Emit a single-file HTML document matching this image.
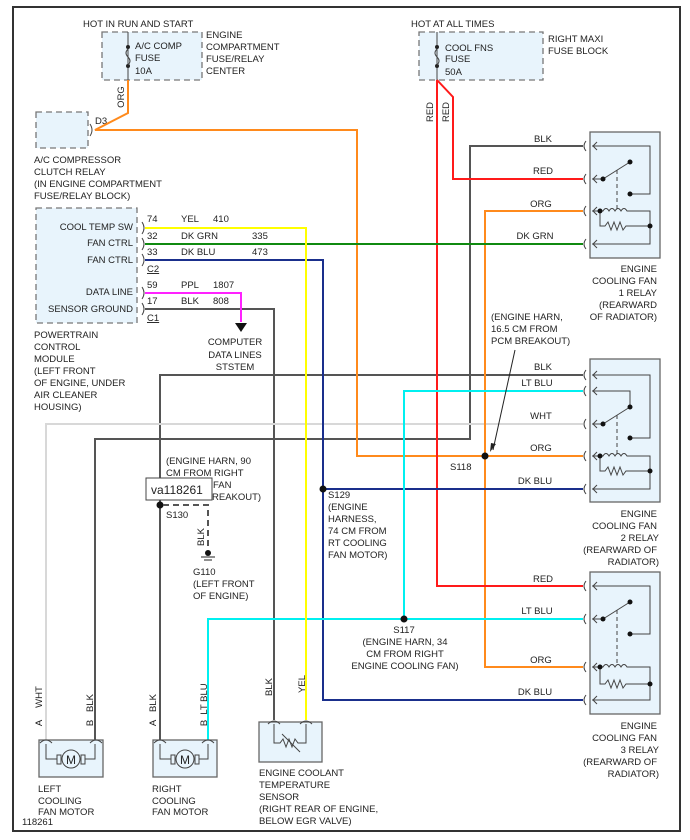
<!DOCTYPE html>
<html><head><meta charset="utf-8"><style>
html,body{margin:0;padding:0;background:#fff}
svg{display:block}
text{font-family:"Liberation Sans",sans-serif;font-size:9.5px;fill:#222}
.w{fill:none;stroke-width:2}
.t{fill:none;stroke:#444;stroke-width:1}
.box{fill:#e8f4fc;stroke:#777;stroke-width:1.3;stroke-dasharray:6,4}
.rb{fill:#e8f4fc;stroke:#666;stroke-width:1.3}
</style></head><body>
<svg width="690" height="840" viewBox="0 0 690 840" xmlns="http://www.w3.org/2000/svg">
<rect x="13" y="7" width="667" height="824" fill="#fff" stroke="#333" stroke-width="2"/>

<!-- fuse boxes -->
<rect class="box" x="102" y="32" width="100" height="48"/>
<text x="83" y="27">HOT IN RUN AND START</text>
<line x1="128" y1="32" x2="128" y2="80" stroke="#444"/>
<circle cx="128" cy="47" r="2" fill="#222"/><circle cx="128" cy="66" r="2" fill="#222"/>
<path d="M128 49 q-4 4 0 8 q4 4 0 8" class="t"/>
<text x="135" y="49">A/C COMP</text><text x="135" y="61">FUSE</text><text x="135" y="74">10A</text>
<text x="206" y="38">ENGINE</text><text x="206" y="50">COMPARTMENT</text><text x="206" y="62">FUSE/RELAY</text><text x="206" y="74">CENTER</text>

<rect class="box" x="419" y="32" width="124" height="48"/>
<text x="411" y="27">HOT AT ALL TIMES</text>
<line x1="437" y1="32" x2="437" y2="80" stroke="#444"/>
<circle cx="437" cy="47" r="2" fill="#222"/><circle cx="437" cy="66" r="2" fill="#222"/>
<path d="M437 49 q-4 4 0 8 q4 4 0 8" class="t"/>
<text x="445" y="51">COOL FNS</text><text x="445" y="62">FUSE</text><text x="445" y="75">50A</text>
<text x="548" y="42">RIGHT MAXI</text><text x="548" y="54">FUSE BLOCK</text>

<!-- AC relay -->
<rect class="box" x="36" y="112" width="52" height="36"/>
<path d="M90 124 q4 6 0 12" class="t"/>
<text x="95" y="124">D3</text>
<text x="34" y="163">A/C COMPRESSOR</text><text x="34" y="175">CLUTCH RELAY</text><text x="34" y="187">(IN ENGINE COMPARTMENT</text><text x="34" y="199">FUSE/RELAY BLOCK)</text>

<!-- PCM -->
<rect class="box" x="36" y="208" width="101" height="115"/>
<g text-anchor="end"><text x="133" y="230">COOL TEMP SW</text><text x="133" y="246">FAN CTRL</text><text x="133" y="263">FAN CTRL</text><text x="133" y="295">DATA LINE</text><text x="133" y="312">SENSOR GROUND</text></g>
<g class="t"><path d="M142 222 q4 6 0 12"/><path d="M142 238 q4 6 0 12"/><path d="M142 254 q4 6 0 12"/><path d="M142 287 q4 6 0 12"/><path d="M142 303 q4 6 0 12"/></g>
<text x="147" y="222">74</text><text x="147" y="239">32</text><text x="147" y="255">33</text><text x="147" y="272" text-decoration="underline">C2</text>
<text x="147" y="288">59</text><text x="147" y="304">17</text><text x="147" y="321" text-decoration="underline">C1</text>
<text x="181" y="222">YEL</text><text x="213" y="222">410</text>
<text x="181" y="239">DK GRN</text><text x="252" y="239">335</text>
<text x="181" y="255">DK BLU</text><text x="252" y="255">473</text>
<text x="181" y="288">PPL</text><text x="213" y="288">1807</text>
<text x="181" y="304">BLK</text><text x="213" y="304">808</text>
<text x="34" y="338">POWERTRAIN</text><text x="34" y="350">CONTROL</text><text x="34" y="362">MODULE</text><text x="34" y="374">(LEFT FRONT</text><text x="34" y="386">OF ENGINE, UNDER</text><text x="34" y="398">AIR CLEANER</text><text x="34" y="410">HOUSING)</text>
<g text-anchor="middle"><text x="235" y="345">COMPUTER</text><text x="235" y="358">DATA LINES</text><text x="235" y="370">STSTEM</text></g>

<!-- wires -->
<polyline class="w" stroke="#555" points="583,146 470,146 470,439 95,439 95,740"/>
<polyline class="w" stroke="#555" points="583,375 160,375 160,740"/>
<polyline class="w" stroke="#555" points="145,309 274,309 274,720"/>
<polyline class="w" stroke="#d8d8d8" points="583,424 46,424 46,740"/>
<polyline class="w" stroke="#ff8a1c" points="128,80 128,113 95,130 357,130 357,456 583,456"/>
<polyline class="w" stroke="#ff8a1c" points="583,211 485,211 485,667 583,667"/>
<polyline class="w" stroke="#ff1a1a" points="437,80 437,586 583,586"/>
<polyline class="w" stroke="#ff1a1a" points="437,80 453,97 453,179 583,179"/>
<polyline class="w" points="145,244 583,244" style="stroke:#108a10"/>
<polyline class="w" stroke="#1a2f8c" points="145,260 323,260 323,700 583,700"/>
<polyline class="w" stroke="#1a2f8c" points="323,489 583,489"/>
<polyline class="w" stroke="#00f0f0" points="583,391 404,391 404,619"/>
<polyline class="w" stroke="#00f0f0" points="583,619 208,619 208,740"/>
<polyline class="w" stroke="#ffff00" points="145,228 306,228 306,720"/>
<polyline class="w" stroke="#ff22ff" points="145,293 241,293 241,322"/>
<polygon points="235,323 247,323 241,332" fill="#111"/>

<!-- vertical labels -->
<g text-anchor="middle">
<text transform="translate(124,97) rotate(-90)">ORG</text>
<text transform="translate(433,112) rotate(-90)">RED</text>
<text transform="translate(449,112) rotate(-90)">RED</text>
<text transform="translate(204,537) rotate(-90)">BLK</text>
<text transform="translate(42,697) rotate(-90)">WHT</text>
<text transform="translate(42,723) rotate(-90)">A</text>
<text transform="translate(93,703) rotate(-90)">BLK</text>
<text transform="translate(93,723) rotate(-90)">B</text>
<text transform="translate(156,703) rotate(-90)">BLK</text>
<text transform="translate(156,723) rotate(-90)">A</text>
<text transform="translate(207,699) rotate(-90)">LT BLU</text>
<text transform="translate(207,723) rotate(-90)">B</text>
<text transform="translate(272,687) rotate(-90)">BLK</text>
<text transform="translate(305,684) rotate(-90)">YEL</text>
</g>

<!-- wire labels near relays -->
<g text-anchor="middle">
<text x="543" y="142">BLK</text><text x="543" y="174">RED</text><text x="541" y="207">ORG</text><text x="535" y="239">DK GRN</text>
<text x="543" y="370">BLK</text><text x="537" y="386">LT BLU</text><text x="541" y="419">WHT</text><text x="541" y="451">ORG</text><text x="535" y="484">DK BLU</text>
<text x="543" y="582">RED</text><text x="537" y="614">LT BLU</text><text x="541" y="663">ORG</text><text x="535" y="695">DK BLU</text>
</g>

<!-- splices -->
<circle cx="485" cy="456" r="3.5" fill="#111"/>
<circle cx="323" cy="489" r="3.5" fill="#111"/>
<circle cx="404" cy="619" r="3.5" fill="#111"/>
<circle cx="160" cy="505" r="3.5" fill="#111"/>
<text x="450" y="470">S118</text>
<text x="491" y="320">(ENGINE HARN,</text><text x="491" y="332">16.5 CM FROM</text><text x="491" y="344">PCM BREAKOUT)</text>
<line x1="515" y1="350" x2="493" y2="450" stroke="#222"/>
<polygon points="490,452 491,443 496,444" fill="#222"/>
<text x="328" y="498">S129</text><text x="328" y="510">(ENGINE</text><text x="328" y="522">HARNESS,</text><text x="328" y="534">74 CM FROM</text><text x="328" y="546">RT COOLING</text><text x="328" y="558">FAN MOTOR)</text>
<g text-anchor="middle"><text x="404" y="633">S117</text><text x="405" y="645">(ENGINE HARN, 34</text><text x="405" y="657">CM FROM RIGHT</text><text x="405" y="669">ENGINE COOLING FAN)</text></g>
<text x="166" y="464">(ENGINE HARN, 90</text><text x="166" y="476">CM FROM RIGHT</text><text x="213" y="488">FAN</text><text x="212" y="500">REAKOUT)</text>
<rect x="146" y="478" width="66" height="22" fill="#fff" stroke="#444"/>
<text x="151" y="494" style="font-size:12px">va118261</text>
<text x="166" y="518">S130</text>
<polyline points="163,505 208,505 208,550" fill="none" stroke="#555" stroke-width="2" stroke-dasharray="6,4"/>
<circle cx="208" cy="553" r="3" fill="#111"/>
<line x1="201" y1="557" x2="215" y2="557" stroke="#222"/><line x1="204" y1="560" x2="212" y2="560" stroke="#222"/>
<text x="193" y="575">G110</text><text x="193" y="587">(LEFT FRONT</text><text x="193" y="599">OF ENGINE)</text>

<!-- relays -->
<g>
<rect class="rb" x="590" y="132" width="70" height="126"/>
<g class="t">
<path d="M586 141 q-4 5 0 10"/><path d="M586 174 q-4 5 0 10"/><path d="M586 206 q-4 5 0 10"/><path d="M586 239 q-4 5 0 10"/>
<path d="M597 142 l-4 4 l4 4 M597 175 l-4 4 l4 4 M597 207 l-4 4 l4 4 M597 240 l-4 4 l4 4"/>
<polyline points="592,146 650,146 650,194 630,194"/>
<line x1="592" y1="179" x2="603" y2="179"/><line x1="603" y1="179" x2="630" y2="162"/>
<line x1="617" y1="170" x2="617" y2="210" stroke-dasharray="4,3"/>
<path d="M592 211 L603 211 q3-5 6 0 q3-5 6 0 q3-5 6 0 q3-5 6 0 L650 211 L650 244 L592 244"/>
<path d="M600 211 L600 226 L605 226 L608 222 L611 230 L614 222 L617 230 L620 222 L623 230 L626 226 L650 226"/>
</g>
<circle cx="603" cy="179" r="2.5" fill="#111"/><circle cx="630" cy="162" r="2.5" fill="#111"/><circle cx="630" cy="194" r="2.5" fill="#111"/><circle cx="600" cy="211" r="2.5" fill="#111"/><circle cx="650" cy="226" r="2.5" fill="#111"/>
</g>
<g text-anchor="end"><text x="657" y="272">ENGINE</text><text x="657" y="284">COOLING FAN</text><text x="657" y="296">1 RELAY</text><text x="657" y="308">(REARWARD</text><text x="657" y="320">OF RADIATOR)</text></g>

<g>
<rect class="rb" x="590" y="359" width="70" height="143"/>
<g class="t">
<path d="M586 370 q-4 5 0 10"/><path d="M586 386 q-4 5 0 10"/><path d="M586 419 q-4 5 0 10"/><path d="M586 451 q-4 5 0 10"/><path d="M586 484 q-4 5 0 10"/>
<path d="M597 371 l-4 4 l4 4 M597 387 l-4 4 l4 4 M597 420 l-4 4 l4 4 M597 452 l-4 4 l4 4 M597 485 l-4 4 l4 4"/>
<polyline points="592,375 650,375 650,438 630,438"/>
<polyline points="592,391 630,391 630,407"/>
<line x1="592" y1="424" x2="603" y2="424"/><line x1="603" y1="424" x2="630" y2="407"/>
<line x1="617" y1="415" x2="617" y2="455" stroke-dasharray="4,3"/>
<path d="M592 456 L603 456 q3-5 6 0 q3-5 6 0 q3-5 6 0 q3-5 6 0 L650 456 L650 489 L592 489"/>
<path d="M600 456 L600 471 L605 471 L608 467 L611 475 L614 467 L617 475 L620 467 L623 475 L626 471 L650 471"/>
</g>
<circle cx="603" cy="424" r="2.5" fill="#111"/><circle cx="630" cy="407" r="2.5" fill="#111"/><circle cx="630" cy="438" r="2.5" fill="#111"/><circle cx="600" cy="456" r="2.5" fill="#111"/><circle cx="650" cy="471" r="2.5" fill="#111"/>
</g>
<g text-anchor="end"><text x="657" y="517">ENGINE</text><text x="657" y="529">COOLING FAN</text><text x="659" y="541">2 RELAY</text><text x="657" y="553">(REARWARD OF</text><text x="659" y="565">RADIATOR)</text></g>

<g>
<rect class="rb" x="590" y="572" width="70" height="142"/>
<g class="t">
<path d="M586 581 q-4 5 0 10"/><path d="M586 614 q-4 5 0 10"/><path d="M586 662 q-4 5 0 10"/><path d="M586 695 q-4 5 0 10"/>
<path d="M597 582 l-4 4 l4 4 M597 615 l-4 4 l4 4 M597 663 l-4 4 l4 4 M597 696 l-4 4 l4 4"/>
<polyline points="592,586 650,586 650,634 630,634"/>
<line x1="592" y1="619" x2="603" y2="619"/><line x1="603" y1="619" x2="630" y2="602"/>
<line x1="617" y1="610" x2="617" y2="666" stroke-dasharray="4,3"/>
<path d="M592 667 L603 667 q3-5 6 0 q3-5 6 0 q3-5 6 0 q3-5 6 0 L650 667 L650 700 L592 700"/>
<path d="M600 667 L600 684 L605 684 L608 680 L611 688 L614 680 L617 688 L620 680 L623 688 L626 684 L650 684"/>
</g>
<circle cx="603" cy="619" r="2.5" fill="#111"/><circle cx="630" cy="602" r="2.5" fill="#111"/><circle cx="630" cy="634" r="2.5" fill="#111"/><circle cx="600" cy="667" r="2.5" fill="#111"/><circle cx="650" cy="684" r="2.5" fill="#111"/>
</g>
<g text-anchor="end"><text x="657" y="729">ENGINE</text><text x="657" y="741">COOLING FAN</text><text x="659" y="753">3 RELAY</text><text x="657" y="765">(REARWARD OF</text><text x="659" y="777">RADIATOR)</text></g>

<!-- motors -->
<g>
<rect class="rb" x="39" y="740" width="64" height="37"/>
<g class="t"><path d="M40 743 q6-6 12 0"/><path d="M90 743 q6-6 12 0"/>
<polyline points="46,744 46,759 57,759"/><polyline points="95,744 95,759 85,759"/>
<rect x="57" y="755" width="4" height="9"/><rect x="81" y="755" width="4" height="9"/><circle cx="71" cy="759" r="9"/></g>
<text x="66" y="764" style="font-size:12px">M</text>
</g>
<g>
<rect class="rb" x="153" y="740" width="64" height="37"/>
<g class="t"><path d="M154 743 q6-6 12 0"/><path d="M202 743 q6-6 12 0"/>
<polyline points="160,744 160,759 171,759"/><polyline points="208,744 208,759 199,759"/>
<rect x="171" y="755" width="4" height="9"/><rect x="195" y="755" width="4" height="9"/><circle cx="185" cy="759" r="9"/></g>
<text x="180" y="764" style="font-size:12px">M</text>
</g>
<text x="38" y="792">LEFT</text><text x="38" y="804">COOLING</text><text x="38" y="815">FAN MOTOR</text>
<text x="152" y="792">RIGHT</text><text x="152" y="804">COOLING</text><text x="152" y="815">FAN MOTOR</text>
<text x="22" y="825">118261</text>

<g>
<rect class="rb" x="259" y="722" width="63" height="40"/>
<g class="t"><path d="M268 724 q6-6 12 0"/><path d="M300 724 q6-6 12 0"/>
<polyline points="274,724 274,743 280,743 283,739 286,747 289,739 292,747 295,739 298,743 306,743 306,724"/>
<line x1="282" y1="734" x2="300" y2="752"/></g>
</g>
<text x="259" y="776">ENGINE COOLANT</text><text x="259" y="788">TEMPERATURE</text><text x="259" y="800">SENSOR</text><text x="259" y="812">(RIGHT REAR OF ENGINE,</text><text x="259" y="824">BELOW EGR VALVE)</text>
</svg>
</body></html>
